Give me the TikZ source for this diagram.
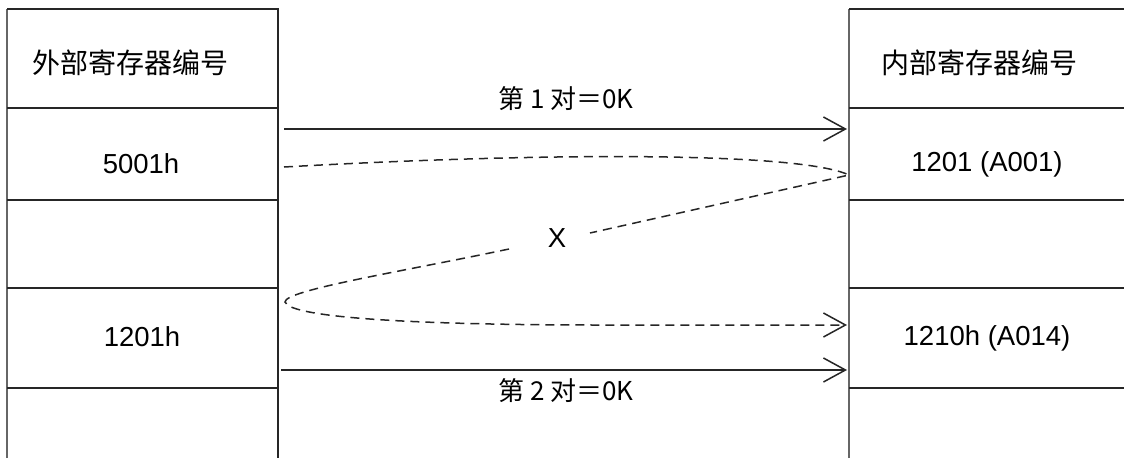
\documentclass[tikz,border=0pt]{standalone}
\usepackage{fontspec}
\setmainfont{Liberation Sans}
\newfontfamily\cjk{Noto Sans CJK SC}
\usetikzlibrary{arrows.meta}
\begin{document}
\begin{tikzpicture}[x=1pt,y=-1pt,
  grid/.style={line width=2pt,black!85},
  edge/.style={line width=2pt,black!60},
  txt/.style={font=\fontsize{27.5}{30}\selectfont,inner sep=0pt},
  cjktxt/.style={font=\cjk\fontsize{28}{30}\selectfont,inner sep=0pt},
  lbl/.style={font=\cjk\fontsize{26}{28}\selectfont,inner sep=0pt},
  arr/.style={line width=1.5pt,black!85,-{Straight Barb[length=22pt,width=24pt,line width=1.5pt]}},
  dsh/.style={line width=1.5pt,black!85,dash pattern=on 9pt off 6pt}]
\useasboundingbox (0,0) rectangle (1124,458);
% left table
\draw[edge] (7,458) -- (7,9);
\draw[grid] (7,9) -- (278,9) -- (278,458);
\foreach \y in {108,200,288,388} \draw[grid] (7,\y) -- (278,\y);
% right table
\draw[edge] (849,458) -- (849,9);
\draw[grid] (849,9) -- (1124,9);
\foreach \y in {108,200,288,388} \draw[grid] (849,\y) -- (1124,\y);
% texts
\node[cjktxt] (lh) at (130,63) {外部寄存器编号};
\node[cjktxt] (rh) at (979,63) {内部寄存器编号};
\node[txt] (l1) at (141,164) {5001h};
\node[txt] (l2) at (142,337) {1201h};
\node[txt] (r1) at (987,164) {1201 (A001)};
\node[txt] (r2) at (987,338) {1210h (A014)};
% connectors
\coordinate (a1s) at (284,129);
\coordinate (a1e) at (847,129);
\coordinate (a2s) at (281,370);
\coordinate (a2e) at (847,370);
\draw[arr] (a1s) -- (a1e);
\draw[arr] (a2s) -- (a2e);
\node[lbl] (t1) at (566,99) {第 1 对＝0K};
\node[lbl] (t2) at (566,391) {第 2 对＝0K};
% dashed loop
\coordinate (ds) at (284,167);
\coordinate (tip) at (849,175);
\coordinate (g1) at (590,233);
\coordinate (g2) at (509,249);
\coordinate (lt) at (285,302);
\coordinate (de) at (847,325);
\draw[dsh] (ds) .. controls (550,152) and (800,152) .. (tip) -- (g1);
\draw[dsh,-{Straight Barb[length=22pt,width=24pt,line width=1.5pt]}] (g2) .. controls (400,272) and (285,290) .. (lt) .. controls (290,318) and (420,325) .. (600,325) -- (de);
\node[txt] (x) at (557,238) {X};
\end{tikzpicture}
\end{document}
